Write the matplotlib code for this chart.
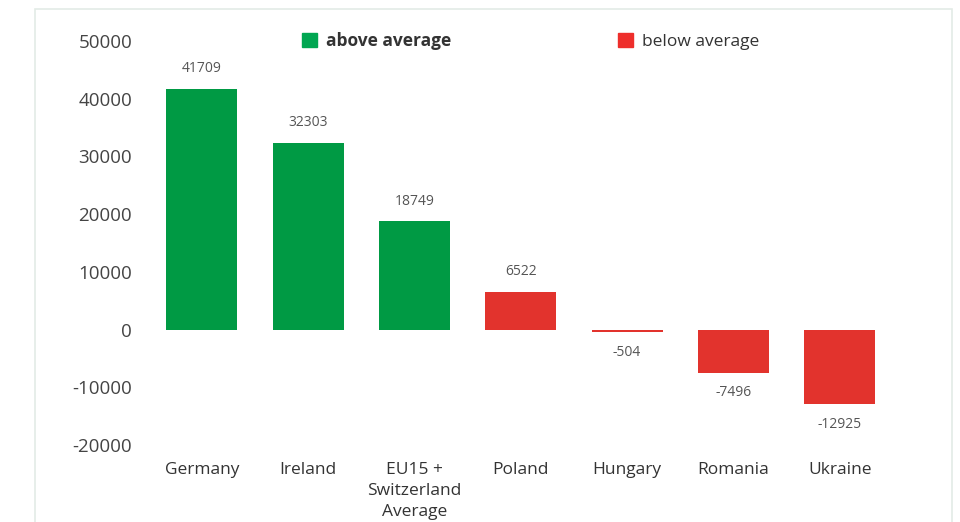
import matplotlib.pyplot as plt
from matplotlib.patches import Patch, Rectangle

plt.rcParams['font.family'] = ['Open Sans', 'DejaVu Sans']
plt.rcParams['axes.unicode_minus'] = False

countries = ["Germany", "Ireland", "EU15 +\nSwitzerland\nAverage", "Poland",
             "Hungary", "Romania", "Ukraine"]
values = [41709, 32303, 18749, 6522, -504, -7496, -12925]
groups = ["above", "above", "above", "below", "below", "below", "below"]

group_colors = {"above": "#009a44", "below": "#e2332d"}
group_labels = {"above": "above average", "below": "below average"}

fig = plt.figure(figsize=(9.6, 5.22), dpi=100)
ax = fig.add_axes([0.155, 0.1475, 0.775, 0.774])

# thin frame around the whole chart
fig.patches.append(Rectangle((35 / 960, -0.05), 917 / 960, 1.05 - 9 / 522,
                             transform=fig.transFigure, fill=False,
                             edgecolor="#e3ebe6", linewidth=1.2))

x = range(len(countries))
bars = ax.bar(x, values, width=0.667, color=[group_colors[g] for g in groups])

for b, v in zip(bars, values):
    off = 14.5 if v >= 0 else -14.5
    ax.annotate(str(v), (b.get_x() + b.get_width() / 2, v), xytext=(0, off),
                textcoords="offset points", ha="center", va="center",
                fontsize=10, color="#555555")

ax.set_xlim(-0.5, 6.5)
ax.set_ylim(-20000, 50000)
ax.set_yticks(range(-20000, 50001, 10000))
ax.set_xticks(list(x))
ax.set_xticklabels(countries, fontsize=12.5, color="#333333", linespacing=1.45)
ax.tick_params(axis="y", length=0, pad=12, labelsize=13.5, labelcolor="#444444")
ax.tick_params(axis="x", length=0, pad=12)
for s in ax.spines.values():
    s.set_visible(False)

handles = [Patch(color="#00a651", label=group_labels["above"]),
           Patch(color="#ee2e2b", label=group_labels["below"])]
leg = fig.legend(handles=handles, ncol=2, loc="center left",
                 bbox_to_anchor=(286 / 960, 1 - 41 / 522), frameon=False,
                 fontsize=12.5, handlelength=0.9, handleheight=0.9,
                 handletextpad=0.5, columnspacing=9.6)
leg.get_texts()[0].set_fontweight("bold")
for t in leg.get_texts():
    t.set_color("#333333")

fig.savefig("out.png", dpi=100, facecolor="white")
